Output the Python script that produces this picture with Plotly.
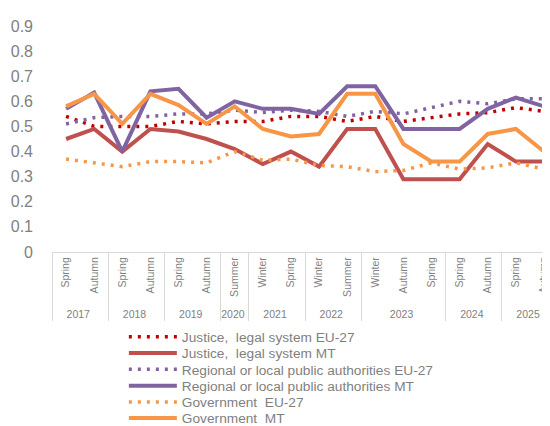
import plotly.graph_objects as go

years = ["2017", "2017", "2018", "2018", "2019", "2019", "2020", "2021", "2021",
         "2022", "2022", "2023", "2023", "2023", "2024", "2024", "2025", "2025"]
seasons = ["Spring", "Autumn", "Spring", "Autumn", "Spring", "Autumn", "Summer", "Winter", "Spring",
           "Winter", "Summer", "Winter", "Autumn", "Spring", "Spring", "Autumn", "Spring", "Autumn"]

justice_eu = [0.54, 0.50, 0.50, 0.50, 0.52, 0.51, 0.52, 0.52, 0.54, 0.54, 0.52, 0.54, 0.52, 0.535, 0.55, 0.555, 0.575, 0.56]
justice_mt = [0.45, 0.49, 0.40, 0.49, 0.48, 0.45, 0.41, 0.35, 0.40, 0.34, 0.49, 0.49, 0.29, 0.29, 0.29, 0.43, 0.36, 0.36]
regional_eu = [0.51, 0.535, 0.54, 0.54, 0.55, 0.55, 0.565, 0.555, 0.565, 0.56, 0.54, 0.56, 0.55, 0.575, 0.60, 0.59, 0.61, 0.61]
regional_mt = [0.57, 0.635, 0.40, 0.64, 0.65, 0.535, 0.60, 0.57, 0.57, 0.55, 0.66, 0.66, 0.49, 0.49, 0.49, 0.57, 0.615, 0.58]
gov_eu = [0.37, 0.355, 0.34, 0.36, 0.36, 0.355, 0.40, 0.365, 0.37, 0.345, 0.34, 0.32, 0.325, 0.355, 0.33, 0.335, 0.355, 0.33]
gov_mt = [0.58, 0.63, 0.51, 0.63, 0.585, 0.51, 0.58, 0.49, 0.46, 0.47, 0.63, 0.63, 0.43, 0.36, 0.36, 0.47, 0.49, 0.40]

series = [
    ("Justice,  legal system EU-27", justice_eu, "#C00000", "dot"),
    ("Justice,  legal system MT", justice_mt, "#C0504D", "solid"),
    ("Regional or local public authorities EU-27", regional_eu, "#8064A2", "dot"),
    ("Regional or local public authorities MT", regional_mt, "#8064A2", "solid"),
    ("Government  EU-27", gov_eu, "#F79646", "dot"),
    ("Government  MT", gov_mt, "#F79646", "solid"),
]

# Plotly orders multicategory inner labels by first appearance; keep the
# original (chronological) order by making repeated labels distinct with
# invisible zero-width characters.
seen_order = {}
inner = []
prev_year, prev_idx = None, -1
for y, s in zip(years, seasons):
    if y != prev_year:
        prev_idx = -1
    lab = s
    while lab in seen_order and seen_order[lab] <= prev_idx:
        lab += "\u200b"
    if lab not in seen_order:
        seen_order[lab] = len(seen_order)
    prev_idx = seen_order[lab]
    prev_year = y
    inner.append(lab)

FONT = "Liberation Sans, Arial, sans-serif"
GRAY = "#7f7f7f"

fig = go.Figure()
legend_rows = [331.5, 348.0, 364.5, 381.0, 397.5, 413.5]
PLOT_TOP, PLOT_BOTTOM = 18, 246
layout_legends = {}
for i, (name, vals, color, style) in enumerate(series):
    lname = "legend" if i == 0 else f"legend{i+1}"
    if style == "dot":
        line = dict(color=color, width=3.5, dash="3px,6px")
    else:
        line = dict(color=color, width=4)
    fig.add_trace(go.Scatter(
        x=[years, inner], y=vals, name=name, mode="lines",
        line=line, legend=lname,
    ))
    ypaper = (PLOT_BOTTOM - legend_rows[i]) / (PLOT_BOTTOM - PLOT_TOP)
    layout_legends[lname] = dict(
        x=0.142, y=ypaper, xanchor="left", yanchor="middle",
        font=dict(family=FONT, size=13.7, color=GRAY),
        bgcolor="rgba(0,0,0,0)", borderwidth=0, itemwidth=48,
    )

fig.update_layout(
    width=550, height=426,
    margin=dict(l=44, r=0, t=PLOT_TOP, b=426 - PLOT_BOTTOM, pad=0),
    paper_bgcolor="white", plot_bgcolor="white",
    showlegend=True,
    xaxis=dict(
        type="multicategory", automargin=False,
        range=[-0.5, 17.5],
        showline=True, linecolor="#d9d9d9", linewidth=1,
        showgrid=False, zeroline=False, ticks="",
        tickangle=-90,
        tickfont=dict(family=FONT, size=10.5, color=GRAY),
        showdividers=True, dividercolor="#d9d9d9", dividerwidth=1,
    ),
    yaxis=dict(
        automargin=False,
        range=[0, 0.9], dtick=0.1, tick0=0,
        showline=False, showgrid=False, zeroline=False, ticks="",
        tickfont=dict(family=FONT, size=16, color=GRAY),
        ticklabelstandoff=18,
    ),
    **layout_legends,
)

fig.write_html("out.html")
